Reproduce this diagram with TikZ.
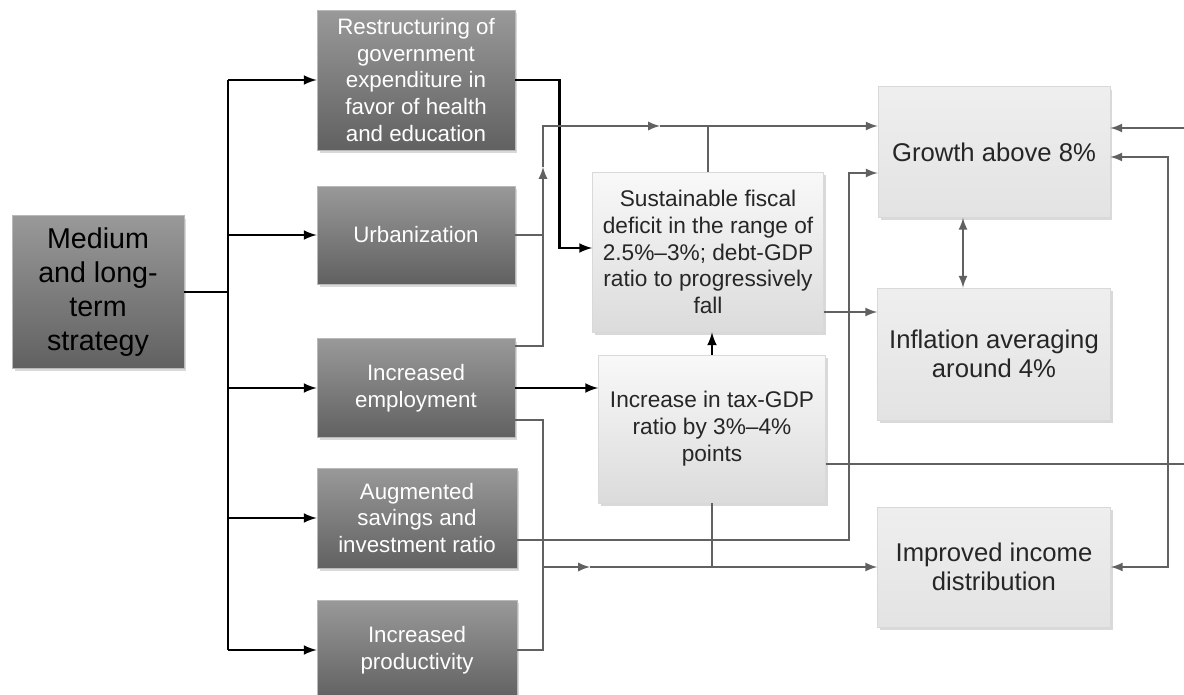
\documentclass[tikz,border=0pt]{standalone}
\usepackage{fontspec}
\setmainfont{Liberation Sans}
\usetikzlibrary{calc,shadows}

\begin{document}
\begin{tikzpicture}[x=0.02cm, y=-0.02cm, >=latex,
    darkbox/.style={draw=gray!55, top color=black!40, bottom color=black!62, text=white, align=center,
        inner sep=0pt, font=\fontsize{12.7}{15.3}\selectfont,
        drop shadow={opacity=0.3, shadow xshift=0.05cm, shadow yshift=-0.06cm}},
    lightbox/.style={draw=gray!30, top color=gray!5, bottom color=gray!28, text=black!85, align=center,
        inner sep=0pt, font=\fontsize{12.9}{15.3}\selectfont,
        drop shadow={opacity=0.3, shadow xshift=0.05cm, shadow yshift=-0.06cm}},
    goalbox/.style={lightbox, top color=gray!13, bottom color=gray!22, font=\fontsize{14.6}{16.6}\selectfont},
    bl/.style={line width=1.5pt, black},
    gl/.style={line width=1.3pt, black!62}]

    \useasboundingbox (0,0) rectangle (1184,695);

    % Strategy on the left
    \node[darkbox, text=black, minimum width=3.44cm, minimum height=3.06cm,
        font=\fontsize{16.3}{19.5}\selectfont] (strat) at (98,292) {Medium\\and long-\\term\\strategy};

    % Policy boxes
    \node[darkbox, minimum width=3.96cm, minimum height=2.8cm] (restr) at (416,80)
        {Restructuring of\\government\\expenditure in\\favor of health\\and education};
    \node[darkbox, minimum width=3.96cm, minimum height=1.96cm] (urban) at (416,235) {Urbanization};
    \node[darkbox, minimum width=3.96cm, minimum height=1.98cm] (employ) at (416,388) {Increased\\employment};
    \node[darkbox, minimum width=4cm, minimum height=2cm] (saving) at (417,518) {Augmented\\savings and\\investment ratio};
    \node[darkbox, minimum width=4cm, minimum height=2cm] (product) at (417,650) {Increased\\productivity};

    % Fiscal targets
    \node[lightbox, minimum width=4.62cm, minimum height=3.2cm] (fiscal) at (708,252)
        {Sustainable fiscal\\deficit in the range of\\2.5\%\textendash3\%; debt-GDP\\ratio to progressively\\fall};
    \node[lightbox, minimum width=4.54cm, minimum height=2.96cm] (tax) at (712,429)
        {Increase in tax-GDP\\ratio by 3\%\textendash4\%\\points};

    % Outcomes
    \node[goalbox, minimum width=4.64cm, minimum height=2.62cm] (growth) at (994,152) {Growth above 8\%};
    \node[goalbox, minimum width=4.66cm, minimum height=2.64cm] (inflat) at (994,354) {Inflation averaging\\around 4\%};
    \node[goalbox, minimum width=4.66cm, minimum height=2.4cm] (income) at (994,567) {Improved income\\distribution};

    % Black tree from the strategy
    \coordinate (trunkT) at (228,80);
    \coordinate (trunkB) at (228,650);
    \draw[bl] (strat.east) -- (strat.east -| trunkT);
    \draw[bl] (trunkT) -- (trunkB);
    \foreach \n in {restr,urban,employ,saving,product}
        \draw[bl,->] (\n.west -| trunkT) -- (\n.west);
    \draw[bl,->] (restr.east) -- ++(44,0) |- ($(fiscal.west)+(0,-4)$);
    \draw[bl,->] (employ.east) -- (employ.east -| tax.west);
    \draw[bl,->] (tax.north) -- (tax.north |- fiscal.south);

    % Gray links into growth (top)
    \coordinate (upA) at (543,167);
    \coordinate (jA) at (543,126);
    \coordinate (midA) at (660,126);
    \draw[gl] (urban.east) -- (urban.east -| upA);
    \draw[gl,->] ($(employ.east)+(0,-42)$) -| (upA);
    \draw[gl,->] (upA) -- (jA) -- (midA);
    \draw[gl,->] (midA) -- (midA -| growth.west);
    \draw[gl] (fiscal.north) -- (fiscal.north |- jA);

    % Gray links into income (bottom)
    \coordinate (jB) at (543,567);
    \coordinate (midB) at (590,567);
    \draw[gl] ($(employ.east)+(0,32)$) -| (jB) |- (product.east);
    \draw[gl,->] (jB) -- (midB);
    \draw[gl,->] (midB) -- (midB -| income.west);
    \draw[gl] (tax.south) -- (tax.south |- jB);

    % Savings to growth
    \coordinate (jC) at (849,173);
    \draw[gl,->] ($(saving.east)+(0,22)$) -| (jC) -- (jC -| growth.west);

    % Fiscal to inflation
    \coordinate (fR) at ($(fiscal.east)+(0,60)$);
    \draw[gl,->] (fR) -- (fR -| inflat.west);

    % Growth and inflation
    \draw[gl,<->] ($(growth.south)+(-31,0)$) -- ($(inflat.north)+(-31,0)$);

    % Tax back to growth, round the right edge
    \draw[gl,->] ($(tax.east)+(0,35)$) -- (1200,464) |- ($(growth.east)+(0,-24)$);

    % Growth and income on the right
    \draw[gl,<->] ($(growth.east)+(0,5)$) -| (1168,567) -- (income.east);
\end{tikzpicture}
\end{document}
